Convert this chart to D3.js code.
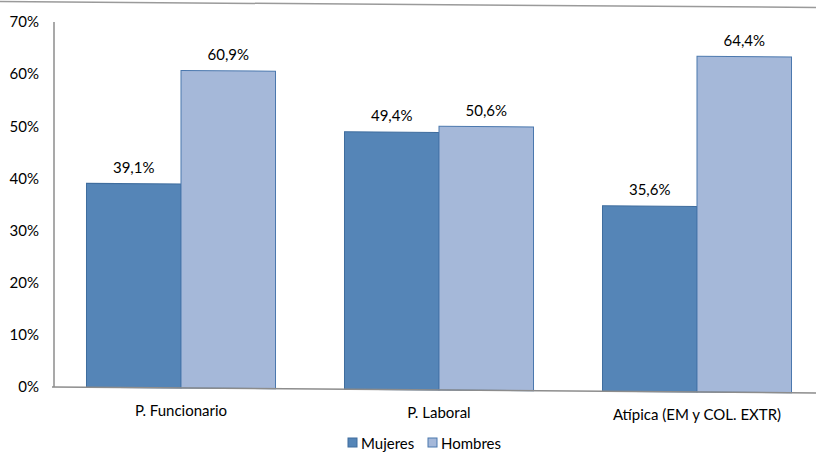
<!DOCTYPE html>
<html><head><meta charset="utf-8">
<script src="https://cdn.jsdelivr.net/npm/d3@7"></script>
<style>body{margin:0;background:#fff}svg{display:block}text{font-family:Lato,"Open Sans",sans-serif;fill:#000}</style>
</head><body><svg id="c" width="816" height="454"></svg>
<script>
const categories = ["P. Funcionario", "P. Laboral", "Atípica (EM y COL. EXTR)"];
const seriesNames = ["Mujeres", "Hombres"];
const mujeres = [0.391, 0.494, 0.356];
const hombres = [0.609, 0.506, 0.644];
const yTicks = [0, 0.1, 0.2, 0.3, 0.4, 0.5, 0.6, 0.7];
const colors = ["#5585B7", "#A5B8D9"];
const strokes = ["#3F6D9E", "#4B78AE"];

const svg = d3.select("#c");
const x0 = 54, k = 6/764;
const shift = x => (x - x0) * k;
const x = d3.scaleBand().domain(categories).range([52, 826]).paddingInner(0.2674).paddingOuter(0.1337);
const xs = d3.scaleBand().domain(seriesNames).range([0, x.bandwidth()]);
const y = d3.scaleLinear().domain([0, 0.7]).range([387, 22]);
const fmt = v => d3.format(".1f")(v*100).replace(".", ",") + "%";
const FS = 15;

svg.append("line").attr("x1",0).attr("y1",1.5).attr("x2",816).attr("y2",7.5).attr("stroke","#9a9a9a").attr("stroke-width",1.5);

const sh = svg.append("g").attr("transform", `matrix(1,${k},0,1,0,${-x0*k})`);
const data = categories.map((c,i)=>({c, vals:[mujeres[i], hombres[i]]}));
data.forEach(d=>{
  d.vals.forEach((v,j)=>{
    const bx = x(d.c) + xs(seriesNames[j]);
    sh.append("rect").attr("x", bx).attr("y", y(v)).attr("width", xs.bandwidth()).attr("height", y(0)-y(v))
      .attr("fill", colors[j]).attr("stroke", strokes[j]).attr("stroke-width", 1);
    const cx = bx + xs.bandwidth()/2;
    svg.append("text").attr("x", cx).attr("y", y(v) + shift(cx) - 11).attr("text-anchor","middle")
      .attr("font-size", FS).text(fmt(v));
  });
});
sh.append("line").attr("x1",52).attr("x2",830).attr("y1",y(0)).attr("y2",y(0)).attr("stroke","#8c8c8c").attr("stroke-width",1.5);
sh.append("line").attr("x1",x0).attr("x2",x0).attr("y1",y(0.7)).attr("y2",y(0)).attr("stroke","#8c8c8c").attr("stroke-width",1.5);

const ya = svg.append("g").attr("transform",`translate(${x0},0)`)
  .call(d3.axisLeft(y).tickValues(yTicks).tickSize(0).tickPadding(15).tickFormat(d3.format(".0%")));
ya.select(".domain").remove();
ya.selectAll("text").attr("font-size",FS).attr("font-family","Lato, sans-serif").attr("fill","#000");

const xa = svg.append("g").attr("transform",`translate(0,${y(0)})`)
  .call(d3.axisBottom(x).tickSize(0).tickPadding(0));
xa.select(".domain").remove();
xa.selectAll(".tick").each(function(d){
  const cx = x(d) + x.bandwidth()/2;
  d3.select(this).select("text").attr("dy", null).attr("y", 28 + shift(cx)).attr("font-size",FS)
    .attr("font-family","Lato, sans-serif").attr("fill","#000");
});

const lg = svg.append("g");
const legendX = [348, 428];
seriesNames.forEach((n,i)=>{
  lg.append("rect").attr("x", legendX[i]).attr("y", 438).attr("width", 9).attr("height", 9)
    .attr("fill", colors[i]).attr("stroke", strokes[i]);
  lg.append("text").attr("x", legendX[i]+13).attr("y", 449).attr("font-size",FS).text(n);
});
</script></body></html>
